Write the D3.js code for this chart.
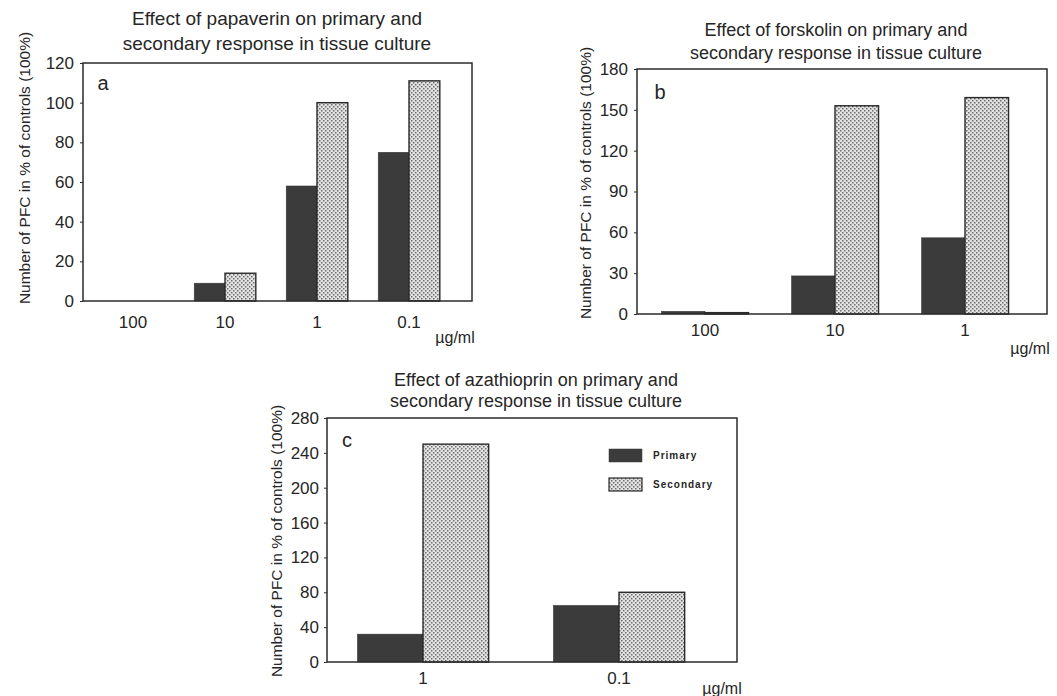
<!DOCTYPE html>
<html>
<head>
<meta charset="utf-8">
<script src="https://cdn.jsdelivr.net/npm/d3@7"></script>
<style>
  html, body { margin: 0; padding: 0; background: #ffffff; }
  svg { display: block; }
  text { font-family: "Liberation Sans", Arial, Helvetica, sans-serif; fill: #262626; }
</style>
</head>
<body>
<svg id="chart" width="1057" height="696"></svg>
<script>
// ---------- data ----------
const seriesNames = ["Primary", "Secondary"];
const unitLabel = "µg/ml";
const yAxisTitle = "Number of PFC in % of controls (100%)";

const titleA = ["Effect of papaverin on primary and", "secondary response in tissue culture"];
const catsA = ["100", "10", "1", "0.1"];
const primaryA = [0, 9, 58, 75];
const secondaryA = [0, 14, 100, 111];
const ticksA = [0, 20, 40, 60, 80, 100, 120];

const titleB = ["Effect of forskolin on primary and", "secondary response in tissue culture"];
const catsB = ["100", "10", "1"];
const primaryB = [2, 28, 56];
const secondaryB = [1, 153, 159];
const ticksB = [0, 30, 60, 90, 120, 150, 180];

const titleC = ["Effect of azathioprin on primary and", "secondary response in tissue culture"];
const catsC = ["1", "0.1"];
const primaryC = [32, 65];
const secondaryC = [250, 80];
const ticksC = [0, 40, 80, 120, 160, 200, 240, 280];

// ---------- drawing ----------
const svg = d3.select("#chart");
const defs = svg.append("defs");
const pat = defs.append("pattern").attr("id", "dots")
  .attr("width", 4).attr("height", 4).attr("patternUnits", "userSpaceOnUse");
pat.append("rect").attr("width", 4).attr("height", 4).attr("fill", "#e2e2e2");
pat.append("rect").attr("x", 0).attr("y", 0).attr("width", 1.5).attr("height", 1.5).attr("fill", "#6c6c6c");
pat.append("rect").attr("x", 2).attr("y", 2).attr("width", 1.5).attr("height", 1.5).attr("fill", "#6c6c6c");

const primaryFill = "#3b3b3b";
const frameColor = "#2b2b2b";

function drawPanel(cfg) {
  const g = svg.append("g");
  const y = d3.scaleLinear().domain([0, d3.max(cfg.ticks)]).range([cfg.bottom, cfg.top]);
  const x0 = d3.scaleBand().domain(cfg.cats).range([cfg.bandL, cfg.bandR]).padding(0);
  const x1 = d3.scaleBand().domain(seriesNames)
    .range([x0.bandwidth() * 0.165, x0.bandwidth() * 0.835]).padding(0);

  const rows = cfg.cats.map((c, i) => ({ cat: c, vals: [cfg.primary[i], cfg.secondary[i]] }));

  // bars
  const grp = g.selectAll("g.grp").data(rows).join("g")
    .attr("transform", d => `translate(${x0(d.cat)},0)`);
  grp.selectAll("rect").data(d => d.vals.map((v, k) => ({ s: seriesNames[k], v })))
    .join("rect")
    .attr("x", d => x1(d.s))
    .attr("width", x1.bandwidth())
    .attr("y", d => y(d.v))
    .attr("height", d => y(0) - y(d.v))
    .attr("fill", d => d.s === "Primary" ? primaryFill : "url(#dots)")
    .attr("stroke", d => d.s === "Primary" ? primaryFill : "#2a2a2a")
    .attr("stroke-width", d => d.s === "Primary" ? 0.5 : 1.4);

  // frame
  g.append("rect")
    .attr("x", cfg.left).attr("y", cfg.top)
    .attr("width", cfg.right - cfg.left).attr("height", cfg.bottom - cfg.top)
    .attr("fill", "none").attr("stroke", frameColor).attr("stroke-width", 1.5);

  // y axis
  const ya = g.append("g").attr("transform", `translate(${cfg.left},0)`)
    .call(d3.axisLeft(y).tickValues(cfg.ticks).tickSize(3).tickPadding(cfg.yPad));
  ya.select(".domain").remove();
  ya.selectAll(".tick line").attr("stroke", frameColor);
  ya.selectAll("text").style("font-size", cfg.tickFont + "px").attr("fill", "#262626");

  // x axis (labels only)
  const xa = g.append("g").attr("transform", `translate(0,${cfg.bottom})`)
    .call(d3.axisBottom(x0).tickSize(0).tickPadding(cfg.xPad));
  xa.select(".domain").remove();
  xa.selectAll("text").style("font-size", cfg.tickFont + "px").attr("fill", "#262626");

  // unit
  g.append("text").attr("x", cfg.unitX).attr("y", cfg.unitY)
    .attr("text-anchor", "middle").attr("dominant-baseline", "central")
    .style("font-size", "16px").text(unitLabel);

  // title
  cfg.title.forEach((t, i) => {
    g.append("text").attr("x", cfg.titleX).attr("y", cfg.titleY[i])
      .attr("text-anchor", "middle").attr("dominant-baseline", "central")
      .style("font-size", cfg.titleFont + "px").text(t);
  });

  // y title
  g.append("text")
    .attr("transform", `translate(${cfg.yTitleX},${cfg.yTitleY}) rotate(-90)`)
    .attr("text-anchor", "middle").attr("dominant-baseline", "central")
    .style("font-size", "15.5px").text(yAxisTitle);

  // panel letter
  g.append("text").attr("x", cfg.letterX).attr("y", cfg.letterY)
    .attr("text-anchor", "middle").attr("dominant-baseline", "central")
    .style("font-size", "20px").text(cfg.letter);

  return { g, x0, y };
}

drawPanel({
  cats: catsA, primary: primaryA, secondary: secondaryA, ticks: ticksA, title: titleA, letter: "a",
  left: 83, right: 472, top: 63, bottom: 301, bandL: 87, bandR: 455,
  yPad: 6, xPad: 15, tickFont: 17, titleFont: 19, titleX: 277, titleY: [18, 43],
  unitX: 455, unitY: 337, yTitleX: 24, yTitleY: 168, letterX: 103, letterY: 83
});

drawPanel({
  cats: catsB, primary: primaryB, secondary: secondaryB, ticks: ticksB, title: titleB, letter: "b",
  left: 637, right: 1047, top: 69, bottom: 314, bandL: 640, bandR: 1030,
  yPad: 6, xPad: 10, tickFont: 17, titleFont: 18, titleX: 836, titleY: [30, 53],
  unitX: 1030, unitY: 348, yTitleX: 585, yTitleY: 183, letterX: 660, letterY: 92
});

const pc = drawPanel({
  cats: catsC, primary: primaryC, secondary: secondaryC, ticks: ticksC, title: titleC, letter: "c",
  left: 327, right: 737, top: 418, bottom: 662, bandL: 325, bandR: 717,
  yPad: 5, xPad: 10, tickFont: 17, titleFont: 18, titleX: 536, titleY: [380, 401],
  unitX: 722, unitY: 688, yTitleX: 276, yTitleY: 541, letterX: 347, letterY: 440
});

// legend in panel c
const leg = pc.g.append("g").attr("transform", "translate(609,449)");
seriesNames.forEach((s, i) => {
  const r = leg.append("g").attr("transform", `translate(0,${i * 29})`);
  r.append("rect").attr("width", 33).attr("height", 13)
    .attr("fill", s === "Primary" ? primaryFill : "url(#dots)")
    .attr("stroke", s === "Primary" ? primaryFill : "#2a2a2a")
    .attr("stroke-width", s === "Primary" ? 0.5 : 1.2);
  r.append("text").attr("x", 44).attr("y", 6.5)
    .attr("dominant-baseline", "central")
    .style("font-size", "10px").style("font-weight", "bold").style("letter-spacing", "1px")
    .text(s);
});
</script>
</body>
</html>
